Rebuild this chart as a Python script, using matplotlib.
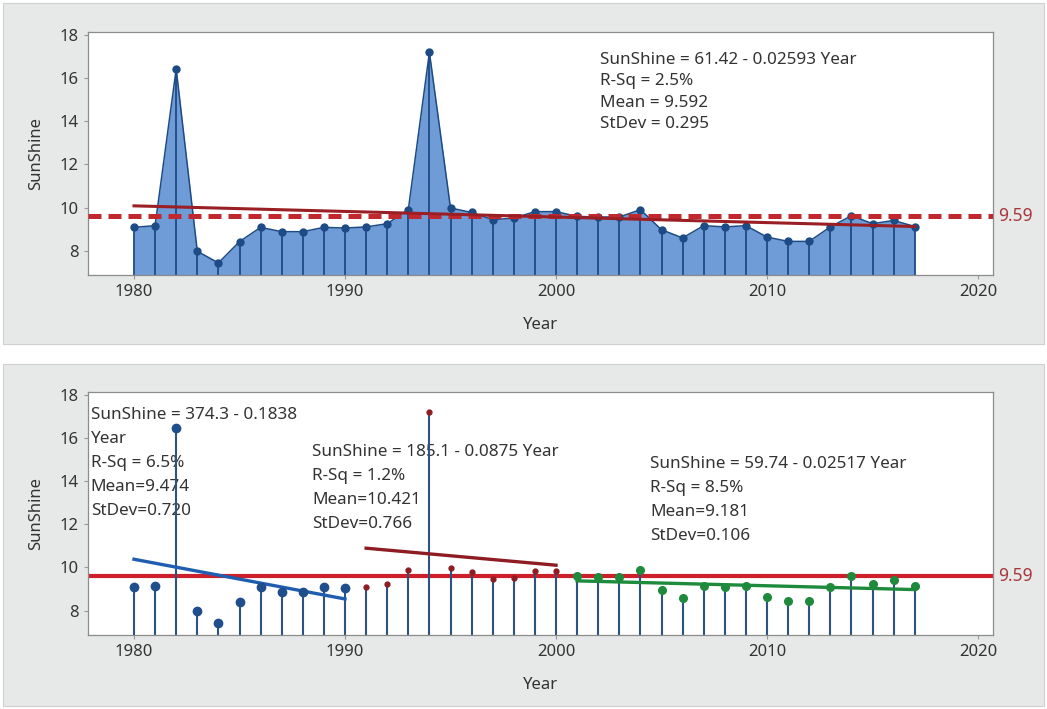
import matplotlib
matplotlib.use('Agg')
import matplotlib.pyplot as plt
from matplotlib.patches import Rectangle

plt.rcParams['font.family'] = ['Noto Sans', 'DejaVu Sans']

years = list(range(1980, 2018))
sunshine = [9.08, 9.16, 16.43, 7.97, 7.43, 8.42, 9.08, 8.88, 8.88, 9.08,
            9.05, 9.10, 9.25, 9.90, 17.20, 9.98, 9.77, 9.44, 9.51, 9.81,
            9.81, 9.59, 9.56, 9.56, 9.90, 8.97, 8.59, 9.16, 9.10, 9.16,
            8.63, 8.43, 8.43, 9.10, 9.62, 9.25, 9.40, 9.12]

mean_all = 9.59

# whole-series fit
fit_all = (61.42, -0.02593)
fit_all_text = 'SunShine = 61.42 - 0.02593 Year\nR-Sq = 2.5%\nMean = 9.592\nStDev = 0.295'

# fits of the three periods
periods = [(1980, 1990), (1991, 2000), (2001, 2017)]
fits = [(374.3, -0.1838), (185.1, -0.0875), (59.74, -0.02517)]
fit_texts = ['SunShine = 374.3 - 0.1838\nYear\nR-Sq = 6.5%\nMean=9.474\nStDev=0.720',
             'SunShine = 185.1 - 0.0875 Year\nR-Sq = 1.2%\nMean=10.421\nStDev=0.766',
             'SunShine = 59.74 - 0.02517 Year\nR-Sq = 8.5%\nMean=9.181\nStDev=0.106']

ylo, yhi = 6.87, 18.13
xlo, xhi = 1977.82, 2020.71

stem_col = '#1d4b86'
fill_col = '#6f9cd6'
dark_red = '#9a1f24'
line_red = '#cc1f29'
fit_cols = ['#1f5db0', '#8e1c22', '#1e8a3c']
marker_cols = ['#1f4e8c', '#8e1c22', '#1e8a3c']
marker_sizes = [6, 3.5, 5.5]

fig = plt.figure(figsize=(10.47, 7.09), dpi=100)
fig.patch.set_facecolor('white')
for y0, h in [(3, 341), (364, 342)]:
    fig.patches.append(Rectangle((3 / 1047, 1 - (y0 + h) / 709), 1041 / 1047, h / 709,
                                 transform=fig.transFigure, facecolor='#e7e8e8',
                                 edgecolor='#cfd0d0', lw=0.8, zorder=-10))


def setup(ax):
    ax.set_xlim(xlo, xhi)
    ax.set_ylim(ylo, yhi)
    ax.set_xticks([1980, 1990, 2000, 2010, 2020])
    ax.set_yticks([8, 10, 12, 14, 16, 18])
    ax.tick_params(labelsize=12, colors='#999999', labelcolor='#333333', length=3, width=0.8)
    for s in ax.spines.values():
        s.set_color('#8c8c8c')
        s.set_linewidth(0.9)
    ax.set_xlabel('Year', fontsize=12, color='#333333', labelpad=12)
    ax.set_ylabel('SunShine', fontsize=12, color='#333333', labelpad=11)


# top: area chart with overall trend
ax1 = fig.add_axes([88 / 1047, 1 - 275 / 709, 905 / 1047, 242.7 / 709])
setup(ax1)
ax1.fill_between(years, sunshine, ylo, color=fill_col, lw=0)
ax1.vlines(years, ylo, sunshine, color=stem_col, lw=1.3)
ax1.plot(years, sunshine, color=stem_col, lw=1.1, marker='o', ms=5)
ax1.axhline(mean_all, color='#c0282e', lw=3.6, dashes=(2.6, 1.4), zorder=4)
ax1.plot([years[0], years[-1]],
         [fit_all[0] + fit_all[1] * years[0], fit_all[0] + fit_all[1] * years[-1]],
         color=dark_red, lw=2.2, zorder=5)
ax1.text(0.566, 0.918, fit_all_text, transform=ax1.transAxes, fontsize=12.3,
         color='#333333', va='top', linespacing=1.43)
ax1.text(1.006, mean_all, '%.2f' % mean_all, transform=ax1.get_yaxis_transform(),
         fontsize=12.5, color='#a8383c', va='center')

# bottom: stems split by period with separate trends
ax2 = fig.add_axes([88 / 1047, 1 - 635 / 709, 905 / 1047, 243.3 / 709])
setup(ax2)
ax2.axhline(mean_all, color=line_red, lw=3, zorder=1.5)
ax2.vlines(years, ylo, sunshine, color='#2c5384', lw=1.5, zorder=2)
for i, (a, b) in enumerate(periods):
    xs = [y for y in years if a <= y <= b]
    vs = [v for y, v in zip(years, sunshine) if a <= y <= b]
    ax2.plot(xs, vs, ls='none', marker='o', ms=marker_sizes[i], color=marker_cols[i], zorder=4)
    c0, c1 = fits[i]
    ax2.plot([a, b], [c0 + c1 * a, c0 + c1 * b], color=fit_cols[i], lw=2.4, zorder=3)
ax2.text(1.006, mean_all, '%.2f' % mean_all, transform=ax2.get_yaxis_transform(),
         fontsize=12.5, color='#a8383c', va='center')

text_pos = [(0.003, 0.936), (0.2475, 0.785), (0.621, 0.736)]
for (tx, ty), t in zip(text_pos, fit_texts):
    ax2.text(tx, ty, t, transform=ax2.transAxes, fontsize=12.3, color='#333333',
             va='top', linespacing=1.66, zorder=1)

fig.savefig('out.png', dpi=100)
